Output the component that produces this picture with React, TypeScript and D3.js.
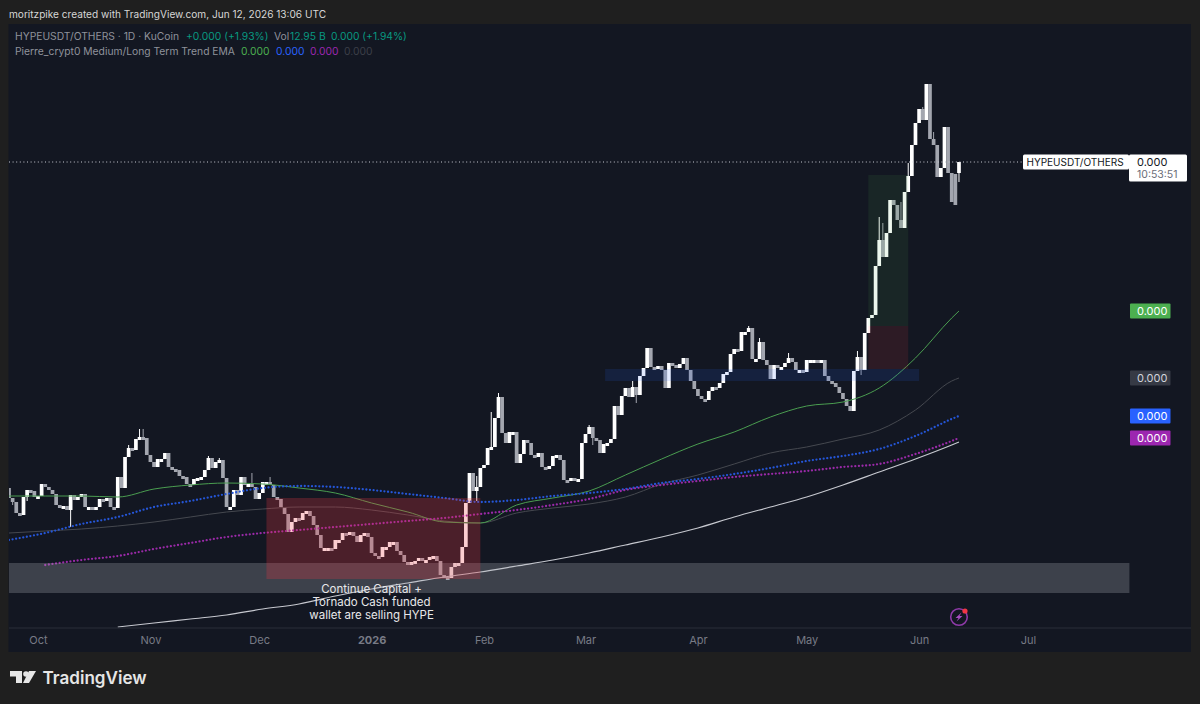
import { useEffect, useRef } from 'react';
import * as d3 from 'd3';

// daily closes from 2025-09-23 (price labels are all 0.000 so units are arbitrary)
const closes = [
  13.0, 12.6, 11.5, 11.3, 13.1, 13.8, 13.7, 13.1, 13.2, 14.4,
  14.1, 13.8, 13.4, 12.3, 12.1, 12.2, 11.8, 13.3, 12.8, 13.1,
  13.4, 12.1, 12.1, 12.0, 12.1, 12.9, 12.8, 13.0, 12.1, 12.0,
  15.1, 14.0, 17.1, 18.0, 17.8, 18.9, 19.1, 19.0, 17.3, 16.6,
  16.1, 16.9, 16.9, 17.5, 16.1, 15.9, 15.8, 15.2, 15.1, 14.4,
  14.3, 14.9, 15.0, 15.1, 15.8, 17.0, 16.0, 16.6, 16.8, 15.0,
  12.1, 12.1, 13.8, 13.3, 15.1, 14.3, 14.4, 14.1, 12.9, 13.5,
  14.6, 14.6, 14.3, 13.1, 12.9, 12.1, 11.4, 9.6, 10.6, 11.0,
  10.8, 11.5, 11.7, 11.2, 10.3, 9.3, 8.0, 8.0, 8.0, 7.9,
  8.8, 8.8, 9.5, 9.4, 9.6, 9.2, 8.6, 9.3, 9.5, 9.1,
  7.5, 7.2, 7.1, 8.1, 8.1, 8.6, 8.6, 7.7, 7.3, 6.6,
  6.5, 6.6, 6.7, 7.0, 6.7, 6.8, 7.1, 7.2, 6.7, 5.3,
  5.1, 5.0, 6.1, 6.5, 6.5, 8.1, 12.5, 15.5, 13.7, 14.1,
  16.0, 16.3, 18.0, 18.1, 21.0, 23.1, 19.5, 18.5, 19.6, 19.6,
  16.5, 17.4, 18.8, 18.5, 17.3, 17.1, 17.5, 16.1, 15.9, 16.2,
  17.2, 17.3, 16.8, 14.8, 14.7, 15.0, 14.8, 14.9, 18.5, 19.4,
  20.1, 19.0, 18.8, 17.5, 18.4, 18.5, 18.9, 22.2, 21.3, 23.2,
  24.0, 23.1, 24.1, 23.3, 25.2, 26.0, 28.0, 26.1, 26.0, 26.2,
  25.8, 24.0, 26.5, 26.3, 26.0, 26.4, 27.0, 25.8, 24.7, 23.9,
  23.2, 22.9, 22.8, 23.7, 24.1, 24.0, 24.5, 25.4, 25.6, 27.4,
  27.9, 27.7, 29.6, 29.6, 30.0, 26.9, 26.9, 28.6, 26.8, 26.3,
  24.9, 26.3, 26.1, 26.1, 26.5, 27.0, 26.6, 25.8, 25.8, 25.6,
  26.8, 26.8, 26.8, 26.7, 26.8, 25.2, 24.7, 24.5, 24.1, 23.5,
  22.9, 22.2, 21.7, 25.7, 27.1, 25.8, 29.5, 31.0, 31.3, 36.2,
  38.8, 37.1, 39.5, 42.8, 42.3, 40.8, 40.0, 43.6, 45.2, 48.3,
  50.5, 51.9, 50.8, 54.4, 48.9, 48.3, 45.1, 46.0, 50.1, 45.5,
  42.6, 42.3, 46.6,
];
const firstOpen = 14.0;
// opens that differ from the previous close
const gapOpens: [number, number][] = [[261, 45.4], [262, 45.5]];
const wickHighs: [number, number][] = [
  [33, 18.3], [36, 19.9], [37, 19.9], [55, 17.2], [58, 17.0], [67, 15.5], [72, 15.1],
  [129, 15.2], [133, 21.6], [135, 23.5], [160, 20.3], [172, 24.7], [204, 30.2], [207, 29.0],
  [215, 27.5], [234, 27.7], [240, 41.1], [241, 40.5], [246, 42.6], [248, 46.5], [252, 52.1], [255, 49.6],
];
const wickLows: [number, number][] = [
  [1, 12.3], [5, 12.7], [17, 10.1], [129, 12.7], [161, 18.3], [173, 22.5], [219, 25.5], [235, 25.3], [262, 44.6],
];

// EMAs, sampled at these day numbers
const emaDays = [0, 10, 20, 30, 40, 50, 60, 70, 80, 90, 100, 110, 120, 130, 140, 150, 160, 170, 180, 190, 200, 210, 220, 230, 240, 250, 260, 262];
const emaGreen = [13.2, 13.2, 13.2, 13.1, 13.9, 14.3, 14.5, 14.4, 14.0, 13.5, 12.5, 11.6, 10.6, 10.5, 12.3, 13.0, 13.7, 15.3, 16.9, 18.4, 19.6, 21.1, 22.2, 22.6, 24.0, 27.0, 31.0, 31.7];
const emaBlue = [8.8, 9.5, 10.4, 11.1, 12.1, 12.7, 13.4, 14.0, 14.2, 14.1, 13.8, 13.4, 13.0, 12.6, 12.8, 13.2, 13.5, 13.9, 14.5, 14.9, 15.4, 16.0, 16.7, 17.2, 17.9, 19.2, 20.9, 21.2];
const emaPurple = [null, 6.3, 6.8, 7.2, 7.9, 8.5, 9.1, 9.5, 9.8, 10.1, 10.4, 10.7, 11.0, 11.4, 11.8, 12.3, 12.9, 13.8, 14.3, 14.7, 15.1, 15.4, 15.7, 16.1, 16.4, 17.4, 18.7, 19.0];
const emaGrey = [9.5, 9.7, 9.9, 10.2, 10.6, 11.1, 11.6, 11.9, 12.1, 12.1, 11.8, 11.3, 10.7, 10.5, 11.5, 12.0, 12.4, 13.1, 14.4, 15.3, 16.4, 17.5, 18.1, 18.9, 19.8, 21.8, 24.7, 25.0];
const emaWhite = [null, null, null, 0.1, 0.5, 0.9, 1.3, 1.9, 2.4, 3.2, 3.9, 4.5, 5.1, 5.6, 6.2, 6.8, 7.5, 8.3, 9.1, 10.0, 11.1, 12.1, 13.1, 14.3, 15.6, 16.9, 18.3, 18.6];

// drawn zones: first day, last day, top value, bottom value
const zoneDays: [number, number][] = [[0, 309], [71, 130], [237, 248], [237, 248], [164.4, 251]];
const zoneValues: [number, number][] = [[6.5, 3.5], [13.0, 4.9], [45.3, 30.2], [30.2, 25.9], [25.9, 24.7]];
const zoneColors = ['#b2b5be', '#f23645', '#4caf50', '#f23645', '#2962ff'];
const zoneOpacity = [0.27, 0.25, 0.1, 0.12, 0.13];

const monthTicks = ['2025-10-01', '2025-11-01', '2025-12-01', '2026-01-01', '2026-02-01', '2026-03-01', '2026-04-01', '2026-05-01', '2026-06-01', '2026-07-01'];
const monthLabels = ['Oct', 'Nov', 'Dec', '2026', 'Feb', 'Mar', 'Apr', 'May', 'Jun', 'Jul'];
const noteLines = ['Continue Capital +', 'Tornado Cash funded', 'wallet are selling HYPE'];

const FONT = 'Inter, "Noto Sans", sans-serif';
const BG = '#131722';
const UP = '#ffffff';
const DOWN = '#a3a6af';

const startDate = new Date(Date.UTC(2025, 8, 23));
const dayDate = (i: number) => new Date(startDate.getTime() + i * 86400000);

export default function App() {
  const svgRef = useRef<SVGSVGElement>(null);

  useEffect(() => {
    if (!svgRef.current) return;
    const svg = d3.select(svgRef.current);
    svg.selectAll('*').remove();

    const x = d3.scaleUtc().domain([dayDate(0), dayDate(309)]).range([9, 1129.4]);
    const y = d3.scaleLinear().domain([0, 60.3]).range([628, 25]);

    // page + panel
    svg.append('rect').attr('width', 1200).attr('height', 704).attr('fill', '#1f1f1f');
    svg.append('rect').attr('x', 8.5).attr('y', 24).attr('width', 1182.5).attr('height', 628).attr('fill', BG);
    svg.append('defs').append('clipPath').attr('id', 'plot')
      .append('rect').attr('x', 9).attr('y', 24).attr('width', 1182).attr('height', 604);

    svg.append('text').attr('x', 9).attr('y', 18).attr('font-size', 10.1).attr('fill', '#d6d6d6')
      .text('moritzpike created with TradingView.com, Jun 12, 2026 13:06 UTC');

    const plot = svg.append('g').attr('clip-path', 'url(#plot)');

    // candles
    const candles = closes.map((close, i) => {
      const gap = gapOpens.find(g => g[0] === i);
      const open = gap ? gap[1] : i === 0 ? firstOpen : closes[i - 1];
      const hi = wickHighs.find(w => w[0] === i);
      const lo = wickLows.find(w => w[0] === i);
      return {
        date: dayDate(i), open, close,
        high: Math.max(open, close, hi ? hi[1] : -1),
        low: Math.min(open, close, lo ? lo[1] : 999),
      };
    });
    const colorOf = (d: { open: number; close: number }) => (d.close >= d.open ? UP : DOWN);
    const bars = plot.append('g').selectAll('g').data(candles).enter().append('g');
    bars.append('line')
      .attr('x1', d => x(d.date)).attr('x2', d => x(d.date))
      .attr('y1', d => y(d.high)).attr('y2', d => y(d.low))
      .attr('stroke', colorOf).attr('stroke-width', 1);
    bars.append('rect')
      .attr('x', d => x(d.date) - 1.85).attr('width', 3.7)
      .attr('y', d => y(Math.max(d.open, d.close)))
      .attr('height', d => Math.max(3, Math.abs(y(d.open) - y(d.close))))
      .attr('fill', colorOf);

    // EMAs
    const line = d3.line<number | null>()
      .defined(d => d !== null)
      .x((_, i) => x(dayDate(emaDays[i])))
      .y(d => y(d as number))
      .curve(d3.curveMonotoneX);
    const addEma = (values: (number | null)[], color: string, width: number, dash?: string) => {
      const p = plot.append('path').attr('d', line(values)).attr('fill', 'none')
        .attr('stroke', color).attr('stroke-width', width);
      if (dash) p.attr('stroke-dasharray', dash).attr('stroke-linecap', 'round');
    };
    addEma(emaGrey, '#45484f', 1);
    addEma(emaWhite, '#c6c8cf', 1.2);
    addEma(emaGreen, '#4a9d50', 1);
    addEma(emaBlue, '#2556d8', 2.3, '0 3.63');
    addEma(emaPurple, '#9a2aa8', 2.3, '0 3.63');

    // zones sit above the candles
    zoneDays.forEach((days, i) => {
      plot.append('rect')
        .attr('x', x(dayDate(days[0]))).attr('width', x(dayDate(days[1])) - x(dayDate(days[0])))
        .attr('y', y(zoneValues[i][0])).attr('height', y(zoneValues[i][1]) - y(zoneValues[i][0]))
        .attr('fill', zoneColors[i]).attr('opacity', zoneOpacity[i]);
    });

    // annotation
    noteLines.forEach((t, i) => {
      svg.append('text').attr('x', x(dayDate(100))).attr('y', 593 + i * 12.8)
        .attr('text-anchor', 'middle').attr('font-size', 11.5).attr('fill', '#e8e8ea').text(t);
    });

    // time axis
    const axis = d3.axisBottom(x)
      .tickValues(monthTicks.map(d => new Date(d)))
      .tickSize(0)
      .tickFormat((_, i) => monthLabels[i]);
    const axisG = svg.append('g').attr('transform', 'translate(0,628)').call(axis);
    axisG.select('.domain').remove();
    axisG.selectAll('text').attr('font-size', 11).attr('fill', '#787b86').attr('font-family', FONT)
      .attr('dy', 0).attr('y', 16)
      .attr('font-weight', (_, i) => (monthLabels[i] === '2026' ? 700 : 400));
    svg.append('line').attr('x1', 9).attr('x2', 1191).attr('y1', 628).attr('y2', 628).attr('stroke', '#2a2e39');

    // last price line + labels
    const lastY = y(closes[closes.length - 1]);
    svg.append('line').attr('x1', 9).attr('x2', 1023).attr('y1', lastY).attr('y2', lastY)
      .attr('stroke', '#c9ccd4').attr('stroke-dasharray', '1 2.6');
    svg.append('rect').attr('x', 1023).attr('y', lastY - 7.5).attr('width', 106).attr('height', 15).attr('rx', 1.5).attr('fill', '#fff');
    svg.append('text').attr('x', 1026.5).attr('y', lastY + 4).attr('font-size', 10).attr('fill', '#131722').text('HYPEUSDT/OTHERS');
    svg.append('rect').attr('x', 1129).attr('y', lastY - 7.5).attr('width', 58).attr('height', 27).attr('rx', 1.5).attr('fill', '#fff');
    svg.append('text').attr('x', 1137).attr('y', lastY + 4).attr('font-size', 11).attr('fill', '#131722').text('0.000');
    svg.append('text').attr('x', 1137).attr('y', lastY + 16).attr('font-size', 10.5).attr('fill', '#6a6d78').text('10:53:51');

    // EMA price tags
    const tags: [(number | null)[], string, string][] = [
      [emaGreen, '#4caf50', '#fff'],
      [emaGrey, '#363a45', '#d1d4dc'],
      [emaBlue, '#2962ff', '#fff'],
      [emaPurple, '#9c27b0', '#fff'],
    ];
    tags.forEach(([values, fill, textFill]) => {
      const ty = y(values[values.length - 1] as number);
      svg.append('rect').attr('x', 1130).attr('y', ty - 7.5).attr('width', 40.5).attr('height', 15).attr('rx', 1).attr('fill', fill);
      svg.append('text').attr('x', 1137).attr('y', ty + 4).attr('font-size', 11).attr('fill', textFill).text('0.000');
    });

    // legend
    const legend = (px: number, py: number, color: string, t: string) =>
      svg.append('text').attr('x', px).attr('y', py).attr('font-size', 10.3).attr('fill', color).text(t);
    legend(15, 40, '#8f929b', 'HYPEUSDT/OTHERS · 1D · KuCoin');
    legend(186, 40, '#089981', '+0.000 (+1.93%)');
    legend(274, 40, '#8f929b', 'Vol');
    legend(290, 40, '#089981', '12.95 B');
    legend(331, 40, '#089981', '0.000 (+1.94%)');
    legend(15, 55, '#8f929b', 'Pierre_crypt0 Medium/Long Term Trend EMA');
    legend(241, 55, '#4caf50', '0.000');
    legend(276, 55, '#2962ff', '0.000');
    legend(310, 55, '#9c27b0', '0.000');
    legend(344, 55, '#3c3f48', '0.000');

    // lightning marker near the last bar
    const mark = svg.append('g').attr('transform', `translate(${x(dayDate(262))},617)`);
    mark.append('circle').attr('r', 8.3).attr('fill', 'none').attr('stroke', '#8e3aa8').attr('stroke-width', 1.6);
    mark.append('path').attr('d', 'M2.5,-4.5 L-3.5,1 L-0.5,1 L-2.5,4.5 L3.5,-1 L0.5,-1 Z').attr('fill', '#a64cc0');
    mark.append('circle').attr('cx', 6).attr('cy', -6).attr('r', 2.6).attr('fill', '#f23645');

    // logo
    const logo = svg.append('g').attr('fill', '#e6e6e6');
    logo.append('path').attr('d', 'M10,671 H22 V683 H16 V676.5 H10 Z');
    logo.append('circle').attr('cx', 26).attr('cy', 674).attr('r', 2.8);
    logo.append('path').attr('d', 'M29,671 H36 L29,683 H23 Z');
    svg.append('text').attr('x', 42.5).attr('y', 684).attr('font-size', 17.1).attr('font-weight', 600)
      .attr('fill', '#e6e6e6').text('TradingView');
  }, []);

  return (
    <svg
      ref={svgRef}
      width={1200}
      height={704}
      viewBox="0 0 1200 704"
      style={{ position: 'absolute', left: 0, top: 0, fontFamily: FONT }}
    />
  );
}
